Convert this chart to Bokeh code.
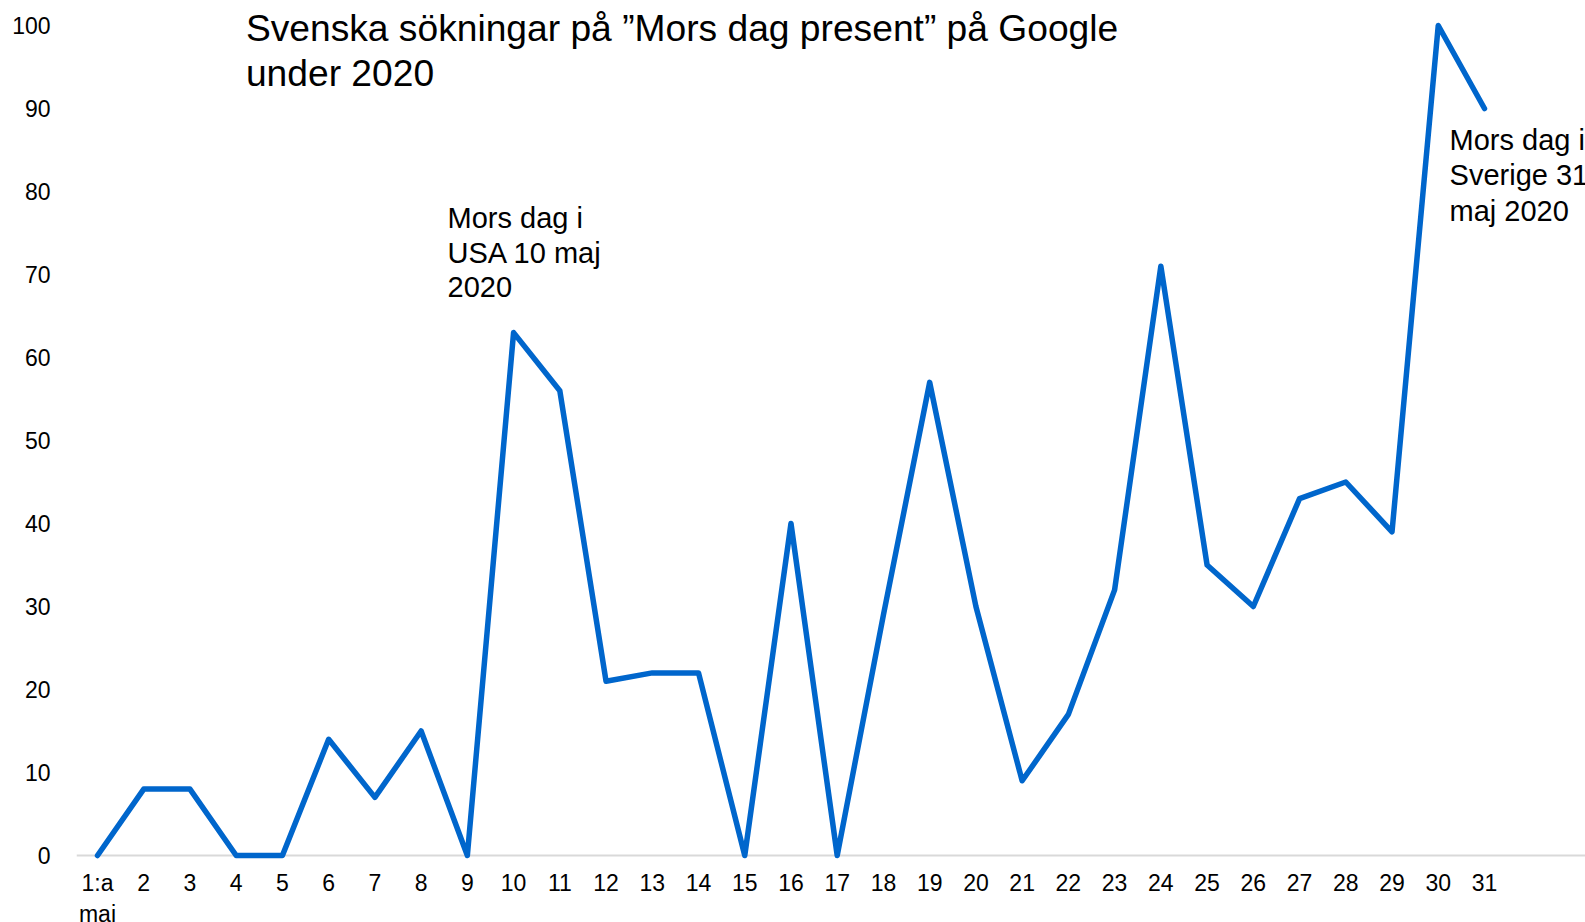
from bokeh.plotting import figure
from bokeh.models import Range1d, Span, Label, FixedTicker, ColumnDataSource
from bokeh.embed import file_html
from bokeh.resources import INLINE

# ---- data ----
days = list(range(1, 32))
day_labels = ["1:a\nmaj"] + [str(d) for d in range(2, 32)]
searches = [0, 8, 8, 0, 0, 14, 7, 15, 0, 63, 56, 21, 22, 22, 0, 40, 0, 29, 57, 30,
            9, 17, 32, 71, 35, 30, 43, 45, 39, 100, 90]
y_ticks = list(range(0, 101, 10))
title_lines = ["Svenska sökningar på ”Mors dag present” på Google", "under 2020"]
note_usa = ["Mors dag i", "USA 10 maj", "2020"]
note_se = ["Mors dag i", "Sverige 31", "maj 2020"]

FONT = "Liberation Sans"
BLUE = "#0066cc"

p = figure(width=1585, height=922, output_backend="svg", toolbar_location=None,
           x_range=Range1d(0.546, 33.185), y_range=Range1d(-8.072, 103.012),
           min_border_left=76, min_border_right=0, min_border_top=0, min_border_bottom=0)
p.outline_line_color = None
p.xgrid.grid_line_color = None
p.ygrid.grid_line_color = None
p.background_fill_color = "white"
p.border_fill_color = "white"

# y axis
p.yaxis.ticker = FixedTicker(ticks=y_ticks)
p.yaxis.axis_line_color = None
p.yaxis.major_tick_line_color = None
p.yaxis.minor_tick_line_color = None
p.yaxis.major_label_standoff = 20
p.yaxis.major_label_text_font = FONT
p.yaxis.major_label_text_font_size = "23px"
p.yaxis.major_label_text_color = "#000000"

# x axis, drawn at y = 0 inside the frame
p.xaxis.fixed_location = 0
p.xaxis.ticker = FixedTicker(ticks=days)
p.xaxis.major_label_overrides = {d: lab for d, lab in zip(days, day_labels)}
p.xaxis.axis_line_color = None
p.xaxis.major_tick_line_color = None
p.xaxis.minor_tick_line_color = None
p.xaxis.major_label_standoff = 8
p.xaxis.major_label_text_font = FONT
p.xaxis.major_label_text_font_size = "23px"
p.xaxis.major_label_text_color = "#000000"
p.xaxis.major_label_text_line_height = 1.2

# baseline
p.add_layout(Span(location=0, dimension="width", line_color="#d9d9d9", line_width=2,
                  level="underlay"))

src = ColumnDataSource(dict(x=days, y=searches))
p.line("x", "y", source=src, line_color=BLUE, line_width=5.5, line_join="round", line_cap="round")

# title
for line, yy in zip(title_lines, [99.7, 94.3]):
    p.add_layout(Label(x=4.21, y=yy, text=line, text_font=FONT, text_font_size="37.2px",
                       text_baseline="alphabetic", text_align="left", text_color="#000000"))

for line, yy in zip(note_usa, [76.8, 72.6, 68.5]):
    p.add_layout(Label(x=8.571, y=yy, text=line, text_font=FONT, text_font_size="29px",
                       text_baseline="alphabetic", text_align="left", text_color="#000000"))

for line, yy in zip(note_se, [86.2, 81.95, 77.7]):
    p.add_layout(Label(x=30.245, y=yy, text=line, text_font=FONT, text_font_size="29px",
                       text_baseline="alphabetic", text_align="left", text_color="#000000"))

open("out.html", "w").write(file_html(p, INLINE))
